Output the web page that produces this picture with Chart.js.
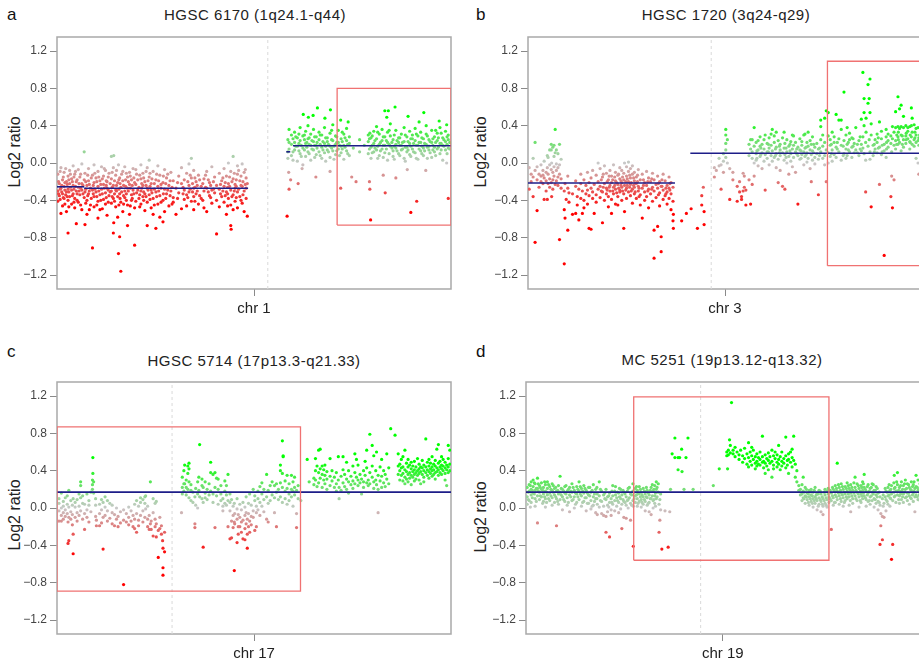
<!DOCTYPE html>
<html>
<head>
<meta charset="utf-8">
<script src="https://cdn.jsdelivr.net/npm/chart.js@4.4.1/dist/chart.umd.min.js"></script>
<style>
body { margin: 0; width: 919px; height: 664px; overflow: hidden; background: #fff; position: relative;
       font-family: "Liberation Sans", Arial, sans-serif; }
canvas { position: absolute; }
.letter { position: absolute; font-size: 17px; line-height: 20px; color: #111; }
.title { position: absolute; font-size: 15px; line-height: 20px; color: #222; white-space: nowrap;
         letter-spacing: 0.5px; transform: translateX(-50%); }
.ylab { position: absolute; font-size: 16px; line-height: 20px; color: #222; white-space: nowrap;
        transform: translate(-50%, -50%) rotate(-90deg); }
</style>
</head>
<body>
<div class="letter" style="left:7px;top:5px">a</div>
<div class="title" style="left:255px;top:5px">HGSC 6170 (1q24.1-q44)</div>
<div class="ylab" style="left:15px;top:152px">Log2 ratio</div>
<canvas id="chartA" width="460" height="320" style="left:0;top:0"></canvas>

<div class="letter" style="left:476px;top:5px">b</div>
<div class="title" style="left:726px;top:5px">HGSC 1720 (3q24-q29)</div>
<div class="ylab" style="left:481px;top:152px">Log2 ratio</div>
<canvas id="chartB" width="470" height="320" style="left:459px;top:0"></canvas>

<div class="letter" style="left:7px;top:342px">c</div>
<div class="title" style="left:254px;top:351px">HGSC 5714 (17p13.3-q21.33)</div>
<div class="ylab" style="left:15px;top:515px">Log2 ratio</div>
<canvas id="chartC" width="460" height="334" style="left:0;top:330px"></canvas>

<div class="letter" style="left:476px;top:342px">d</div>
<div class="title" style="left:722px;top:350px">MC 5251 (19p13.12-q13.32)</div>
<div class="ylab" style="left:481px;top:517px">Log2 ratio</div>
<canvas id="chartD" width="470" height="334" style="left:459px;top:330px"></canvas>

<script>
// y axis ticks shared by all four panels
const yTicks = [-1.2, -0.8, -0.4, 0, 0.4, 0.8, 1.2];

// each row: [position, log2 ratio, log2 ratio, ...]
const rowsA = [
[0.2,-0.12,-0.30,-0.41],[0.6,-0.22,-0.35],[1.0,-0.05,-0.27,-0.54],[1.4,-0.18,-0.33,-0.46],
[1.8,-0.10,-0.25,-0.38],[2.4,-0.52,-0.20,-0.31],[2.8,-0.75,-0.14,-0.28,-0.40],[3.2,-0.08,-0.22,-0.36],
[3.7,-0.17,-0.29,-0.44],[4.1,-0.03,-0.24,-0.33],[4.5,-0.12,-0.38,-0.48],[4.9,-0.65,-0.20,-0.30],
[5.4,-0.07,-0.26,-0.42],[5.8,-0.15,-0.34],[6.3,-0.01,-0.22,-0.29,-0.50],[6.9,0.12,-0.18,-0.37],
[7.1,-0.66,-0.11,-0.31],[7.6,-0.24,-0.40,-0.55],[8.0,-0.06,-0.19,-0.33],[8.5,-0.27,-0.45],
[9.0,-0.91,-0.13,-0.29],[9.4,-0.02,-0.21,-0.36,-0.47],[9.9,-0.16,-0.31],[10.4,-0.59,-0.09,-0.25,-0.41],
[10.9,-0.19,-0.34,-0.50],[11.3,-0.04,-0.28],[11.8,-0.14,-0.23,-0.39],[12.3,-0.08,-0.32,-0.44],
[12.7,-0.20,-0.27,-0.56],[13.2,-0.11,-0.35],[13.8,0.07,-0.17,-0.30,-0.43],[14.3,-0.75,-0.05,-0.24,-0.38],
[14.4,0.08,-0.64],[14.9,-0.13,-0.29,-0.47],[15.4,-0.21,-0.36,-0.58],[15.6,-0.97,-0.02],
[15.9,-0.79,-0.16,-0.33],[16.2,-1.16,-0.26,-0.42],[16.7,-0.09,-0.19,-0.52],[17.2,-0.04,-0.30,-0.37],
[17.9,-0.67,-0.15,-0.27,-0.45],[18.4,-0.10,-0.23,-0.55],[18.9,-0.18,-0.34,-0.40],[19.3,-0.06,-0.29],
[19.7,-0.88,-0.21,-0.48],[20.2,-0.12,-0.32],[20.8,-0.26,-0.38],[21.3,-0.02,-0.17,-0.30,-0.44],
[21.8,-0.11,-0.24,-0.36],[22.3,-0.20,-0.51,-0.33],[22.9,-0.67,-0.05,-0.27,-0.42],[23.4,0.03,-0.15,-0.34],
[23.9,-0.22,-0.29,-0.48],[24.4,-0.09,-0.38,-0.55],[25.1,-0.70,-0.18,-0.31],[25.6,-0.03,-0.25,-0.44],
[26.1,-0.13,-0.35,-0.58],[26.9,-0.63,-0.21,-0.40],[27.3,-0.07,-0.28,-0.52],[27.8,-0.16,-0.33],
[28.4,-0.24,-0.46],[28.9,-0.10,-0.30],[29.5,-0.19,-0.37,-0.42],[30.2,-0.27,-0.55],
[30.9,-0.14,-0.32],[31.6,-0.05,-0.22,-0.49],[32.3,-0.18,-0.29,-0.39],[32.9,-0.11,-0.34,-0.46],
[33.5,-0.01,-0.24,-0.31],[34.1,0.05,-0.16,-0.41],[34.7,-0.08,-0.27,-0.36,-0.50],[35.3,-0.20,-0.33],
[35.9,-0.13,-0.44],[36.6,-0.25,-0.38],[37.3,-0.17,-0.30,-0.48],[38.0,-0.09,-0.27,-0.52],
[38.7,-0.21,-0.35],[39.3,-0.04,-0.29,-0.43],[40.0,-0.15,-0.32],[40.5,-0.76,-0.24,-0.40],
[41.2,-0.11,-0.28,-0.47],[41.8,-0.19,-0.36],[42.4,-0.06,-0.25,-0.42],[43.0,-0.14,-0.31,-0.55],
[43.5,0.00,-0.22,-0.38],[44.1,-0.67,-0.09,-0.29,-0.45],[44.2,-0.71],[44.7,0.07,-0.17,-0.34,-0.50],
[45.2,-0.23,-0.27,-0.41],[45.8,-0.03,-0.12,-0.31,-0.48],[46.4,-0.19,-0.36],[47.0,-0.01,-0.25,-0.43],
[47.5,-0.10,-0.30,-0.52],[48.0,-0.16,-0.27,-0.38],[48.3,-0.57,-0.22],
[0.4,-0.20,-0.33],[0.8,-0.09,-0.28,-0.39],[1.2,-0.24,-0.31],[1.6,-0.15,-0.37],[2.0,-0.21,-0.29,-0.44],
[2.2,-0.06,-0.34],[2.6,-0.23,-0.36],[3.0,-0.18,-0.31,-0.47],[3.4,-0.26,-0.12],[3.9,-0.20,-0.35],
[4.3,-0.15,-0.28,-0.42],[4.7,-0.09,-0.25],[5.1,-0.18,-0.33,-0.40],[5.6,-0.22,-0.30],[6.0,-0.12,-0.27,-0.45],
[6.6,-0.24,-0.33],[7.3,-0.20,-0.28,-0.43],[7.8,-0.13,-0.35],[8.2,-0.23,-0.30,-0.50],[8.7,-0.16,-0.38],
[9.2,-0.24,-0.33],[9.6,-0.11,-0.28],[10.1,-0.20,-0.36,-0.45],[10.6,-0.15,-0.30],[11.1,-0.23,-0.40],
[11.5,-0.17,-0.33,-0.49],[12.0,-0.27,-0.06],[12.5,-0.19,-0.24,-0.37],[13.0,-0.15,-0.29,-0.42],
[13.5,-0.22,-0.31],[14.0,-0.10,-0.26,-0.36],[14.6,-0.19,-0.33,-0.41],[15.1,-0.08,-0.24,-0.30],
[15.7,-0.18,-0.28,-0.45],[16.0,-0.22,-0.38],[16.4,-0.12,-0.31],[16.9,-0.24,-0.35,-0.44],[17.4,-0.18,-0.25],
[17.6,-0.11,-0.33,-0.40],[18.1,-0.20,-0.30],[18.6,-0.14,-0.27,-0.46],[19.1,-0.24,-0.38],[19.5,-0.16,-0.33],
[20.0,-0.07,-0.23,-0.41],[20.5,-0.18,-0.29],[21.0,-0.13,-0.34,-0.47],[21.5,-0.22,-0.27],
[22.0,-0.16,-0.31,-0.40],[22.6,-0.09,-0.24,-0.36],[23.1,-0.19,-0.29],[23.6,-0.11,-0.25,-0.39],
[24.1,-0.17,-0.32],[24.7,-0.22,-0.28,-0.45],[25.3,-0.12,-0.36],[25.8,-0.19,-0.30],[26.4,-0.23,-0.27,-0.42],
[27.0,-0.14,-0.33],[27.6,-0.22,-0.38],[28.1,-0.12,-0.29],[28.7,-0.19,-0.35],[29.2,-0.26,-0.44],
[30.6,-0.21,-0.38],[32.0,-0.26,-0.33],[33.2,-0.20,-0.37],[33.8,-0.13,-0.28],[34.4,-0.22,-0.31],
[35.0,-0.16,-0.26,-0.41],[35.6,-0.24,-0.30],[36.2,-0.18,-0.35],[37.0,-0.22,-0.40],[37.7,-0.13,-0.26],
[38.4,-0.18,-0.31],[39.0,-0.24,-0.37],[39.7,-0.20,-0.28],[41.5,-0.23,-0.33],[42.1,-0.16,-0.30],
[42.7,-0.21,-0.35],[43.3,-0.26,-0.33,-0.46],[43.8,-0.15,-0.25],[44.4,-0.20,-0.36],[45.0,-0.11,-0.30],
[45.5,-0.18,-0.25,-0.37],[46.1,-0.08,-0.28],[46.7,-0.14,-0.24,-0.40],[47.2,-0.20,-0.34],[47.8,-0.07,-0.23],
[58.4,-0.57],[58.6,0.12,0.25,0.05],[58.8,-0.10],[58.9,-0.28,0.36],[59.3,-0.18],[59.5,0.20,0.30,0.08],
[60.3,0.14,0.33,0.22],[61.0,0.02,0.18,0.27],[61.2,-0.22],[61.7,0.24,0.10,0.38],[62.2,-0.06],
[62.4,0.16,0.29,-0.02],[62.5,0.52],[63.1,0.21,0.07,0.34],[63.7,0.12,0.26,0.40],[63.8,0.49],
[64.4,0.19,0.03,0.31],[65.0,0.51],[65.1,0.23,0.14,0.36],[65.7,-0.15],[65.8,0.09,0.28,0.19],
[66.1,0.59],[66.5,0.25,0.12,0.33],[67.2,0.17,0.30,0.05],[67.9,0.21,0.38,0.11],[68.0,0.48],
[68.6,0.14,0.27,0.23],[69.3,-0.09,0.18,0.32,0.06],[69.4,0.57],[70.0,0.24,0.13,0.41],
[70.7,0.20,0.29,0.09],[71.4,0.15,0.35,0.22],[72.0,-0.27,0.46],[72.1,0.26,0.11,0.18],
[72.8,0.19,0.31,0.04],[73.5,0.13,0.24,0.37],[73.9,0.44],[74.2,0.21,0.08,0.28],[74.8,-0.15],
[75.2,0.16],[75.9,-0.20],[76.8,0.12,0.25],[78.0,0.19],[79.0,0.10,0.23,0.30],[79.3,-0.20],
[79.4,-0.28,0.32],[79.6,-0.61],[79.7,0.17,0.27,0.05],[80.4,0.21,0.34,0.12],[81.1,0.14,0.26,0.39],
[81.8,0.20,0.08,0.31],[82.5,0.24,0.15,0.36],[82.8,-0.13],[83.2,0.11,0.28,0.19,0.56],[83.3,-0.32],
[83.7,0.49],[83.9,0.22,0.03,0.33],[84.1,0.56],[84.6,0.18,0.29,0.42],[85.3,0.13,0.25,0.07],
[85.8,0.60],[86.0,-0.16,0.20,0.35,0.16],[86.7,0.27,0.10,0.22],[87.4,0.14,0.31,0.19],
[88.1,0.23,0.05,0.38],[88.8,0.17,0.28,0.12],[88.9,-0.07],[89.1,0.50],[89.5,0.21,0.34,0.09],
[89.8,-0.53],[90.2,0.15,0.26,0.30],[90.9,0.24,0.11,0.37],[91.3,-0.41],[91.6,0.19,0.29,0.04],
[91.9,0.44],[92.3,0.13,0.22,0.33],[93.0,0.26,0.16,0.08],[93.1,0.54],[93.6,-0.08],
[93.7,0.20,0.31,0.40],[94.4,0.14,0.25,0.18],[95.1,0.22,0.06,0.35],[95.8,0.17,0.28,0.12],
[96.5,0.24,0.32,0.15],[97.0,0.45],[97.2,0.10,0.21,0.38],[97.9,0.19,0.27,0.03],
[98.6,0.23,0.14,0.34],[98.9,0.41,0.00],[99.3,-0.38,0.16,0.30,0.25],
[58.9,0.15,0.22],[59.9,0.12,0.26,0.03],[60.6,0.18,0.28],[61.4,0.21,0.13,0.31],[62.0,0.19,0.07],
[62.8,0.25,0.14,0.30],[63.4,0.17,0.22],[64.0,0.27,0.10,0.20],[64.7,0.15,0.24],[65.4,0.19,0.28,0.06],
[66.0,0.16,0.22],[66.8,0.20,0.30,0.08],[67.5,0.23,0.14],[68.2,0.18,0.27,0.02],[68.9,0.20,0.12],
[69.7,0.25,0.16,0.35],[70.3,0.18,0.04],[71.0,0.22,0.13,0.28],[71.7,0.19,0.08],[72.4,0.23,0.15,0.33],
[73.1,0.17,0.27],[73.8,0.20,0.10],[79.3,0.15,0.26],[80.0,0.19,0.11,0.29],[80.7,0.24,0.16],
[81.4,0.18,0.05,0.33],[82.1,0.22,0.13],[82.8,0.19,0.28,0.06],[83.6,0.24,0.15],[84.3,0.20,0.10,0.35],
[85.0,0.22,0.16],[85.6,0.18,0.30,0.04],[86.3,0.24,0.13],[87.0,0.19,0.27,0.08],[87.7,0.22,0.15],
[88.4,0.17,0.30,0.02],[89.1,0.23,0.14],[89.8,0.18,0.26,0.07],[90.5,0.21,0.12],[91.2,0.19,0.31,0.05],
[91.9,0.22,0.15],[92.6,0.18,0.27,0.10],[93.3,0.21,0.13],[94.0,0.17,0.29,0.05],[94.7,0.23,0.11],
[95.4,0.19,0.26,0.14],[96.1,0.22,0.08,0.35],[96.8,0.17,0.27],[97.5,0.21,0.14,0.32],[98.2,0.18,0.25],
[99.0,0.20,0.10,0.28],[99.7,0.22,0.15]
];

const rowsB = [
[0.3,-0.28,-0.05],[0.8,-0.12,-0.20],[1.3,-0.36,0.05,-0.15],[1.8,-0.85,0.22,-0.08],[2.3,-0.51,-0.04,-0.18],
[2.8,-0.12,-0.26],[3.3,-0.02,-0.14,-0.20],[3.8,-0.13,-0.08,-0.22],[4.1,-0.39,-0.16,0.02],
[4.6,-0.10,-0.19,-0.30],[4.9,-0.39,0.08,-0.05],[5.1,0.06,-0.12,-0.22],[5.5,0.14,-0.02,-0.17,-0.26],
[5.9,0.20,0.14,-0.07,-0.21],[6.0,-0.36,0.00],[6.3,0.17,-0.18,-0.10,-0.28],[6.6,0.19,0.07,-0.04,-0.14],
[6.9,0.36,0.11,-0.23],[7.2,0.14,-0.08,-0.01,-0.19],[7.6,0.10,-0.15,-0.05,-0.24],[8.0,0.20,-0.02,-0.82,-0.12],
[8.4,0.04,-0.17,-0.27],[9.2,-1.08,-0.50,-0.30],[9.4,-0.59,-0.22],[9.7,-0.39],[10.1,-0.72,-0.27,-0.14],
[10.4,-0.32,-0.42],[11.3,-0.55,-0.33],[12.1,-0.54,-0.19,-0.25],[12.5,-0.45,-0.36],[12.9,-0.61,-0.28],
[13.4,-0.38,-0.22,-0.12],[13.8,-0.54,-0.30],[14.2,-0.48,-0.18,-0.40],[14.7,-0.33,-0.24],
[15.1,-0.10,-0.29,-0.44],[15.5,-0.70,-0.21,-0.35],[16.0,-0.71,-0.16,-0.27],[16.4,-0.38,-0.08,-0.31],
[16.8,-0.54,-0.23],[17.3,-0.13,-0.34,-0.42],[17.8,0.00,-0.20,-0.28],[18.3,-0.06,-0.25,-0.37],
[18.9,-0.64,-0.15,-0.31],[19.4,-0.22,-0.40,-0.03],[19.9,-0.11,-0.27,-0.33],[20.4,-0.18,-0.36,-0.47],
[20.8,-0.08,-0.24,-0.30],[21.2,-0.54,-0.14,-0.21,-0.39],[21.7,-0.02,-0.26,-0.33],
[22.2,-0.10,-0.19,-0.28,-0.44],[22.8,-0.45,-0.13,-0.23,-0.36],[23.3,-0.05,-0.17,-0.29,-0.31],
[23.8,-0.08,-0.21,-0.26,-0.40],[24.3,-0.70,-0.11,-0.18,-0.33],[24.5,-0.52,0.00,-0.24],
[25.0,-0.04,-0.14,-0.27,-0.38],[25.5,0.01,-0.09,-0.20,-0.31],[26.0,-0.06,-0.16,-0.23,-0.35],
[26.5,-0.03,-0.12,-0.28,-0.43],[27.0,-0.10,-0.19,-0.26,-0.33],[27.5,-0.15,-0.22,-0.38],
[28.0,-0.07,-0.25,-0.30],[28.5,-0.18,-0.34,-0.45],[29.0,-0.59,-0.12,-0.27],[29.6,-0.21,-0.31,-0.40],
[30.1,-0.09,-0.24,-0.36],[30.6,-0.16,-0.28,-0.48],[31.1,-0.20,-0.33],[31.6,-0.11,-0.26,-0.41],
[32.0,-0.72,-1.02,-0.18,-0.30],[32.5,-0.23,-0.37],[32.9,-0.68,-0.14,-0.27],[33.4,-0.20,-0.32,-0.46],
[33.8,-0.79,-0.95,-0.25],[34.3,-0.12,-0.29,-0.39],[34.8,-0.19,-0.35],[35.3,-0.24,-0.31,-0.44],
[35.8,-0.15,-0.27,-0.38],[36.3,-0.21,-0.33,-0.50],[36.8,-0.62,-0.26,-0.41],[36.9,-0.70,-0.55],
[18.6,-0.18,-0.30],[19.1,-0.26,-0.12],[20.1,-0.20,-0.29],[20.6,-0.14,-0.26],[21.5,-0.18,-0.30],
[22.0,-0.24,-0.15],[22.5,-0.21,-0.32],[23.0,-0.12,-0.27],[23.6,-0.19,-0.24],[24.0,-0.15,-0.30],
[24.8,-0.20,-0.29],[25.2,-0.17,-0.24],[25.8,-0.13,-0.26],[26.2,-0.21,-0.30],[26.8,-0.16,-0.24],
[27.2,-0.22,-0.31],[27.8,-0.13,-0.20],[28.2,-0.27,-0.36],[29.3,-0.18,-0.24],[30.4,-0.20,-0.30],
[31.4,-0.17,-0.28],[33.1,-0.22,-0.34],[34.0,-0.18,-0.25],[35.0,-0.27,-0.33],[36.0,-0.22,-0.29],
[39.0,-0.62],[40.2,-0.54],[41.4,-0.49],[43.0,-0.70],[44.1,-0.45,-0.35],[44.5,-0.26],[44.7,-0.66,-0.52],
[47.3,-0.15,-0.05],[47.8,-0.08],[48.5,-0.03,0.05],[49.0,-0.28,-0.02],[49.6,0.10,0.02,-0.10],
[50.2,0.36,0.30,0.21,0.14,0.06],[50.6,0.25,0.00],[51.2,-0.39,-0.06],[52.0,-0.10,-0.18],
[53.1,-0.25,-0.41],[53.7,-0.31,-0.20],[54.2,-0.36,-0.39],[54.6,-0.11,-0.30],[54.9,-0.14,-0.26],
[55.3,-0.45,-0.29],[56.1,-0.18,0.08,0.20],[56.5,-0.44,0.15,0.25],[56.9,-0.23,0.25,0.12,0.05],
[57.4,0.38,0.18,-0.14,0.00],[57.9,0.22,0.10,0.03],[58.4,0.14,0.24,-0.03],[58.9,0.18,0.07,0.28],
[59.4,0.11,0.20,-0.06],[59.9,0.25,0.15,0.02],[60.2,-0.29,0.09,0.30],[60.7,0.21,0.05,0.12],
[61.2,0.16,0.27,-0.02],[61.7,0.08,0.19,0.31],[62.0,0.36,0.13,0.02],[62.5,0.22,0.06,0.29],
[63.0,0.10,0.17,-0.05,0.33],[63.5,-0.21,0.04,0.24],[64.0,0.14,0.08,0.20,-0.08],[64.6,-0.25,0.11,0.27],
[65.0,0.33,0.03,0.16],[65.2,-0.28,0.09,0.21],[65.7,0.12,0.00,0.25],[66.2,0.18,0.07,-0.12],
[66.7,0.23,0.10,0.02],[67.1,0.15,0.30,-0.04],[67.4,0.29,0.06,0.19],[67.9,0.12,0.22,-0.10],
[68.5,-0.44,0.08,0.17],[69.0,0.26,0.14,0.04],[69.5,0.19,0.09,0.23],[70.0,0.12,0.30,-0.02],
[70.3,0.31,0.16,0.07],[70.8,0.22,0.11,0.01],[71.1,0.33,0.18,0.05],[71.6,0.14,0.24,-0.06],
[71.9,-0.20,0.09,0.20],[72.2,0.28,0.13,0.03],[72.8,0.17,0.06,-0.01],[73.3,0.10,0.21],
[73.7,-0.34,0.15,0.04],[74.3,0.39,0.46,0.25,0.12],[74.8,0.30,0.18,0.05],[75.3,0.48,0.22,0.08,-0.02],
[75.7,-0.20,0.56,0.14],[76.2,0.54,0.29,0.11,0.00],[76.7,0.19,0.07,0.25],[77.2,0.33,0.14,0.02],
[77.7,0.22,0.09,0.28],[78.2,0.52,0.17,0.06],[78.9,0.46,0.26,0.12],[79.5,0.46,0.36,0.19,0.03],
[80.2,0.76,0.24,0.10],[80.7,0.30,0.15,0.05],[81.0,0.38,0.20,0.08],[81.6,0.25,0.12,0.32],
[82.2,0.17,0.06,0.27],[82.8,0.21,0.11],[83.2,0.38,0.14],[84.0,0.24,0.08],[84.6,0.47,0.20,0.13],
[85.0,0.97,0.28,0.16],[85.3,0.69,0.54,0.40,0.10],[85.7,-0.31,0.22,0.03],[85.8,0.48,0.33],
[86.3,0.84,0.64,0.18],[86.6,0.69,0.25],[86.8,0.90,0.54,0.04,0.12],[87.1,0.42,-0.47,0.30],
[87.6,0.19,0.08],[88.1,0.25,0.15],[88.6,0.31,0.11,0.22],[89.2,0.44,-0.23,0.17],[89.7,0.26,0.09,0.34],
[90.4,-0.99,0.20,0.13],[90.9,0.28,0.36,0.06],[91.4,0.17,0.24,0.31],[92.1,-0.36,0.21,0.29],
[92.3,-0.14,0.12],[92.5,0.39,-0.48,0.26],[92.9,-0.18,0.33,0.19],[93.3,0.55,0.38,0.24,0.15],
[93.9,0.71,0.39,0.28,0.20],[94.3,0.58,0.37,0.22],[94.7,0.62,0.39,0.30,0.13],[95.3,0.50,0.38,0.25,0.17],
[95.9,0.40,0.29,0.21],[96.4,0.38,0.26,0.34],[96.9,0.39,0.23,0.15],[97.3,0.59,0.40,0.28],
[97.5,0.48,0.20,0.33],[98.0,0.41,0.25,0.18],[98.5,0.37,0.30,0.22,0.05],[99.0,0.38,0.24,0.00],
[99.2,-0.12,0.27,0.19],[99.7,0.35,0.21,0.30],
[58.1,0.13,0.05],[59.1,0.16,0.09],[61.0,0.12,0.20],[62.8,0.15,0.08],[63.8,0.18,0.11],[65.5,0.16,0.06],
[66.5,0.13,0.20],[68.2,0.10,0.15],[69.3,0.13,0.05],[70.6,0.17,0.09],[72.5,0.11,0.20],[74.0,0.16,0.08],
[77.0,0.20,0.10],[78.5,0.15,0.22],[80.0,0.18,0.08],[81.3,0.14,0.22],[82.5,0.18,0.26],[83.6,0.20,0.11],
[84.3,0.15,0.28],[87.9,0.20,0.12],[88.9,0.16,0.27],[89.9,0.19,0.12],[91.0,0.15,0.22],[93.6,0.30,0.20],
[94.0,0.33,0.25],[95.0,0.29,0.20],[96.0,0.32,0.25],[97.0,0.30,0.22],[98.2,0.33,0.27],[99.4,0.30,0.25]
];

const rowsC = [
[0.5,0.05,-0.03,-0.14,0.10],[1.1,0.16,0.00,-0.08,-0.14],[1.6,0.07,-0.05,-0.12,0.02],[2.1,0.11,-0.02,-0.09],
[2.6,0.04,-0.06,0.13],[2.8,-0.38,-0.15],[3.0,0.19,-0.35,0.01,-0.10],[3.5,0.08,-0.04,-0.12],
[3.9,-0.18,0.03,-0.07],[4.1,-0.28,-0.49,0.10],[4.6,0.01,-0.10,0.06],[5.1,0.09,-0.05,-0.14],
[5.6,0.15,0.02,-0.08],[6.0,0.28,0.24,0.11,-0.03],[6.5,0.05,-0.12,0.13],[7.0,-0.23,0.04,-0.06],
[7.6,0.15,-0.02,-0.10],[8.1,0.08,-0.15,0.03],[8.6,0.17,-0.04],[9.0,0.25,0.30,0.20],[9.1,0.54,0.37],
[9.3,0.28,0.16],[9.8,0.03,-0.09,0.10],[10.0,-0.19,-0.13],[10.8,-0.19,0.04,-0.06],[11.3,0.09,-0.02,-0.16],
[11.7,-0.44,0.06,-0.10],[12.2,0.01,-0.08,0.12],[12.8,-0.03,-0.14,0.08],[13.4,0.05,-0.11],
[14.0,-0.05,-0.17,0.03],[14.6,-0.19,-0.07],[15.1,0.00,-0.12],[15.5,-0.20,-0.09],[16.1,-0.04,-0.16],
[16.9,-0.82,-0.13,-0.02],[17.6,-0.15,-0.06],[18.2,-0.10,-0.18,0.01],[18.8,-0.03,-0.14],[19.3,-0.08,-0.20],
[19.7,-0.22,-0.12,0.04],[20.2,-0.26,-0.06,0.08],[20.7,-0.13,0.02,-0.19],[21.2,0.06,-0.08,0.11],
[21.8,0.09,-0.03,-0.15],[22.3,0.12,0.05,-0.10],[22.5,0.13,-0.01],[23.0,0.02,-0.12,-0.20],
[23.4,-0.23,-0.08],[23.7,0.28,-0.17],[23.9,-0.23,-0.14],[24.4,-0.30,-0.05,0.10],[24.9,-0.20,0.05,-0.12],
[25.2,-0.31,0.07,-0.17],[25.7,-0.53,-0.24],[26.1,-0.10,-0.22],[26.5,-0.19,-0.28],[26.8,-0.35],
[26.9,-0.43,-0.64,-0.72],[27.3,-0.47,-0.26],
[31.6,-0.05],[31.8,0.33,0.22,0.15],[32.2,0.26,0.40,0.18],[32.4,0.46,0.26],[32.8,0.22,0.30,0.14],
[33.2,0.45,0.37,0.20],[33.5,0.48,0.42,0.28,0.11],[34.0,0.19,0.25,0.08],[34.5,0.17,0.06],
[35.0,-0.17,-0.21,0.12],[35.2,0.03,0.21],[35.7,0.15,0.28,0.00],[36.0,0.33,0.19],[36.2,0.68,0.12],
[36.8,0.31,0.10,0.24],[37.1,0.22,-0.42,0.06],[37.6,0.16,0.28,0.11],[38.1,0.20,0.09],[38.6,0.26,0.14],
[39.0,0.49,0.38,0.18],[39.6,0.15,0.36,0.06],[40.1,0.38,0.22,-0.21],[40.5,0.32,0.13],[40.9,0.31,0.20,0.04],
[41.6,0.15,0.08,0.24],[42.1,0.02,0.10,-0.03],[42.6,0.18,0.05,0.29],[43.0,0.24,0.14,0.03],
[43.4,0.36,0.08,-0.20],[43.9,-0.33,0.15,-0.03,0.06],[44.3,-0.14,-0.32,0.09],[44.7,-0.08,-0.21,0.02],
[45.0,-0.67,-0.15,0.05],[45.1,-0.17,-0.06],[45.7,-0.37,-0.12,-0.01,0.10],[46.0,-0.20,-0.28,-0.07],
[46.4,-0.20,-0.10,0.04],[46.8,-0.26,-0.15,-0.02],[47.2,-0.13,-0.33,0.06],[47.7,-0.34,-0.22,-0.08,0.01],
[48.0,-0.17,-0.05,0.12],[48.3,-0.43,-0.28,-0.12],[48.6,-0.20,-0.06,0.05],[48.9,-0.26,-0.14,0.15],
[49.3,-0.09,-0.18,0.03],[49.8,-0.10,-0.03,0.20],[50.2,-0.24,0.08,0.13],[50.6,-0.20,-0.05,0.02],
[51.0,0.10,0.18,-0.02],[51.5,0.06,0.23,-0.08],[52.0,0.15,0.02,0.27],[52.5,0.09,0.20,-0.04],
[53.2,0.36,0.12,-0.12],[53.6,-0.15,0.19,0.05],[54.1,0.24,0.08],[54.6,0.28,0.14],[55.2,0.11,0.24,-0.05],
[55.7,-0.20,0.26,0.17],[56.2,0.20,0.09],[56.7,0.46,0.40,0.27,0.12],[57.2,0.72,0.37,0.22,0.06],
[57.4,0.56,0.55],[57.9,0.18,0.29,0.10],[58.4,0.35,0.21,0.04],[58.9,0.26,0.15,0.08],[59.5,0.35,0.20,0.12],
[59.9,0.28,0.18,0.02],[60.3,0.22,0.14,0.33],[60.8,-0.21,-0.06,0.19],[61.2,0.24,0.10],[61.9,0.08],
[63.5,0.52],[64.0,0.28],[65.2,0.25,0.32],[65.6,0.53,0.40,0.30],[66.0,0.45,0.23],[66.4,0.62,0.38,0.27],
[66.8,0.63,0.42,0.32],[67.3,0.36,0.22,0.45],[67.7,0.41,0.30],[68.0,0.46,0.35,0.26],[68.5,0.39,0.31,0.20],
[69.3,0.53,0.34,0.24],[69.8,0.29,0.40],[70.4,0.33,0.22],[70.9,0.38,0.26,0.18],[71.4,0.55,0.30],
[71.6,0.10,0.22],[72.1,0.34,0.19],[72.6,0.55,0.41,0.27],[73.0,0.23,0.36],[73.5,0.49,0.31,0.20],
[74.0,0.40,0.28,0.16],[74.6,0.34,0.25],[75.1,0.45,0.29,0.21],[75.6,0.58,0.38,0.26],[76.0,0.52,0.33],
[76.4,0.46,0.24,0.30],[76.9,0.36,0.27],[77.3,0.15,0.31],[77.8,0.40,0.28,0.22],[78.2,0.50,0.35],
[78.6,0.62,0.27,0.43],[79.0,0.30,0.24],[79.4,0.79,0.38,0.26],[80.0,0.67,0.33,0.45],[80.4,0.56,0.28,0.21],
[80.9,0.40,0.30],[81.1,0.60,0.25],[81.5,-0.05,0.35,0.20],[82.0,0.44,0.29],[82.4,0.52,0.34,0.22],
[82.9,0.27,0.40],[83.3,0.36,0.23],[83.7,0.58,0.31],[84.2,0.26,0.43],[84.7,0.85],[85.8,0.78],
[86.6,0.58,0.45,0.36],[87.0,0.47,0.40,0.30],[87.4,0.52,0.43,0.35],[87.8,0.44,0.37,0.29,0.55],
[88.3,0.62,0.41,0.33,0.26],[88.7,0.48,0.39,0.31],[89.1,0.52,0.44,0.36,0.28],[89.5,0.46,0.38,0.32],
[89.9,0.42,0.35,0.49,0.25],[90.3,0.45,0.39,0.33],[90.7,0.50,0.41,0.36,0.29],[91.1,0.44,0.38,0.31],
[91.5,0.53,0.40,0.35],[91.9,0.47,0.42,0.37,0.30],[92.3,0.44,0.39,0.26],[92.7,0.51,0.43,0.36],
[93.1,0.46,0.40,0.33,0.28],[93.6,0.74,0.44,0.38],[94.0,0.49,0.41,0.35],[94.4,0.45,0.39,0.32,0.52],
[94.8,0.48,0.42,0.37],[95.2,0.55,0.44,0.40,0.34],[95.6,0.47,0.41,0.36],[96.0,0.51,0.45,0.38,0.31],
[96.4,0.63,0.43,0.39],[96.8,0.68,0.48,0.41,0.35],[97.2,0.50,0.44,0.38],[97.6,0.46,0.42,0.36,0.55],
[98.0,0.52,0.45,0.40],[98.5,0.49,0.43,0.37,0.30],[98.9,0.24,0.46,0.41],[99.3,0.67,0.53,0.44,0.38],
[99.7,0.62,0.47,0.40]
];

const rowsD = [
[0.3,0.22,0.12,0.04],[0.8,0.25,0.18,0.08],[1.3,0.28,0.20,0.14,0.06],[1.8,0.30,0.23,0.16],
[2.3,0.26,0.19,0.10,0.02],[2.9,0.32,-0.16,0.21,0.13],[3.4,0.24,0.17,0.09],[3.9,0.27,0.20,0.12],
[4.4,0.22,0.15,0.07],[4.9,0.25,0.18,0.10,0.01],[5.4,0.28,0.21,0.14],[6.0,0.23,0.16,0.08],
[6.6,0.26,0.19,0.11,0.03],[7.2,0.21,0.14,0.06],[7.7,-0.19,0.18,0.10],[8.2,0.24,0.15,0.04],
[8.6,0.34,0.17,0.09],[9.2,0.20,0.12,-0.02],[9.8,0.23,0.16,0.07],[10.4,0.18,0.11,0.03],
[11.0,0.22,0.14,-0.04],[11.6,0.26,0.17,0.08],[12.2,0.19,0.12,0.00],[12.8,0.23,0.15,0.06],
[13.4,0.28,0.18,0.09],[14.0,0.21,0.13,0.02],[14.6,0.24,0.16,0.07],[15.2,0.19,0.11,-0.03],
[15.8,0.22,0.14,0.05],[16.4,0.17,0.08,-0.01],[17.0,0.25,0.12,0.03],[17.6,0.20,0.10,-0.05],
[18.0,0.15,0.04,-0.07],[18.5,0.28,0.13,0.01],[19.1,0.18,0.07,-0.06],[19.6,0.14,0.02,-0.08],
[20.2,-0.26,0.20,0.09,-0.09],[20.6,0.12,0.03,-0.04],[21.1,-0.31,0.16,0.06],[21.5,0.10,-0.02,-0.08],
[21.9,0.24,0.13,0.04],[22.4,0.18,0.08,-0.03],[22.9,0.11,0.02],[23.4,0.16,0.06,-0.05],
[23.9,0.20,0.10,-0.01],[24.2,-0.22,0.14,0.04],[24.7,0.17,0.07,-0.10],[25.3,-0.11,0.12,0.03],
[25.8,0.21,0.09,0.00],[26.4,-0.13,0.15,0.05],[27.0,0.26,0.18,0.08],[27.1,-0.41,0.02],
[27.6,0.21,0.13,0.06],[28.1,0.19,0.10,0.02],[28.6,0.23,0.15,0.07],[29.1,0.17,0.09,0.01],
[29.6,0.21,0.12,0.04],[30.1,0.15,0.07,-0.03],[30.6,0.19,0.11,0.03],[31.1,0.14,0.06,-0.04],
[31.6,0.22,0.10,-0.07],[32.1,0.18,0.08,0.00],[32.5,0.24,0.13,0.05],[32.9,0.28,0.20,0.10],
[33.4,0.26,0.17],[33.6,-0.26,0.04],[33.8,-0.13,0.09],[34.0,-0.02,0.15],[34.3,-0.44],[35.1,-0.03],
[0.6,0.17,0.09],[1.1,0.24,0.01],[1.6,0.19,0.11],[2.1,0.27,0.15],[2.6,0.21,0.07],[3.1,0.18,0.26],
[3.6,0.13,0.22],[4.2,0.19,0.05],[4.7,0.28,0.12],[5.2,0.17,0.06],[5.7,0.25,0.10],[6.3,0.20,0.13],
[6.9,0.17,0.24],[7.5,0.12,0.22],[8.0,0.19,0.07],[8.9,0.14,0.21],[9.5,0.18,0.09],[10.1,0.15,0.24],
[10.7,0.20,0.06],[11.3,0.12,0.18],[11.9,0.22,0.09],[12.5,0.16,0.04],[13.1,0.20,0.12],[13.7,0.15,0.23],
[14.3,0.18,0.06],[14.9,0.11,0.21],[15.5,0.16,0.05],[16.1,0.13,0.22],[16.7,0.19,0.02],[17.3,0.15,0.07],
[17.9,0.22,0.10],[18.8,0.08,0.20],[19.9,0.10,0.16],[20.9,0.13,0.01],[21.7,0.18,0.06],[22.6,0.14,0.23],
[23.1,0.08,0.17],[23.6,0.21,0.12],[24.5,0.09,0.19],[25.0,0.15,0.06],[25.6,0.18,0.08],[26.1,0.11,0.22],
[26.7,0.14,0.03],[27.3,0.17,0.10],[27.9,0.23,0.14],[28.3,0.16,0.05],[28.9,0.20,0.12],[29.3,0.14,0.06],
[29.9,0.18,0.09],[30.4,0.22,0.12],[30.9,0.16,0.05],[31.4,0.19,0.10],[31.9,0.13,0.25],[32.3,0.20,0.09],
[32.7,0.16,0.02],[33.1,0.22,0.12],
[35.9,-0.42],[36.3,-0.04],[36.5,0.20],[36.9,0.58],[37.6,0.75,0.54],[38.4,0.54,0.41],[38.8,0.54],
[39.3,0.63],[39.4,0.39],[39.9,0.20],[40.4,0.54],[40.9,0.75],[42.2,0.20],[47.3,0.24],[48.8,0.42],
[50.7,0.56,0.60],[50.9,0.42],[51.1,0.62,0.57],[51.4,0.73],[51.6,0.67,0.59],[51.9,1.13],
[52.3,0.62,0.58],[52.8,0.65,0.55],[53.3,0.60],[53.8,0.57,0.52],[54.2,0.62],[54.7,0.56,0.49],
[55.2,0.53,0.64],[55.8,0.47,0.58],[56.2,0.70,0.54,0.44],[56.6,0.60,0.50],[57.0,0.65,0.56,0.46],
[57.4,0.62,0.52],[57.9,0.42,0.55,0.48],[58.3,0.58,0.50,0.45],[58.7,0.54,0.47],[59.1,0.46,0.60,0.52],
[59.7,0.77,0.55,0.49],[60.0,0.50,0.43],[60.4,0.37,0.57,0.48],[60.8,0.53,0.45],[61.2,0.59,0.51,0.41],
[61.6,0.55,0.48],[62.1,0.62,0.33,0.50],[62.5,0.56,0.46,0.42],[62.9,0.60,0.53],[63.4,0.49,0.57,0.44],
[63.8,0.67,0.52,0.47],[64.2,0.55,0.41],[64.6,0.60,0.50,0.45],[65.1,0.53,0.48],[65.6,0.76,0.56,0.43],
[66.0,0.51,0.46],[66.3,0.37,0.58,0.52],[66.8,0.60,0.49],[67.2,0.63,0.54,0.44],[67.6,0.77,0.51],
[68.0,0.33,0.47],[68.4,0.28,0.40],[68.9,0.24,0.19],[69.3,0.20,0.14],[69.7,0.15,0.25,0.08],
[70.0,0.33,0.18,0.11],[70.5,0.22,0.13,0.05],[71.0,0.16,0.09],[71.5,0.19,0.12,0.03],[72.0,0.14,0.07,0.20],
[72.5,0.17,0.10,0.01],[73.0,0.12,0.05,0.22],[73.5,0.16,0.08,-0.02],[74.0,0.11,0.04,0.19],
[74.5,0.15,0.07,-0.04],[75.0,0.10,0.02,-0.07],[75.5,0.14,0.05,0.20],[76.0,0.18,0.09,0.01],
[76.5,0.12,0.06],[77.1,-0.23,0.16,0.08],[77.6,0.20,0.11,0.03],[78.1,0.24,0.14,0.06],[78.6,0.48,0.18,0.09],
[79.1,0.22,0.13,0.04],[79.6,0.26,0.16,0.07],[80.1,0.20,0.11,0.02],[80.6,0.23,0.15,0.08],
[81.1,0.27,0.18,0.10],[81.6,0.21,0.12,0.03],[82.0,-0.04,0.25,0.16],[82.5,0.19,0.10,0.05],
[83.1,0.33,0.22,0.13],[83.6,0.26,0.17,0.08],[84.1,0.21,0.12,0.01],[84.6,0.24,0.15,0.06],
[85.0,0.28,0.19,0.10],[85.4,0.36,0.22,0.13],[85.9,0.18,0.09,0.02],[86.4,0.25,0.16,0.07],
[86.9,0.21,0.12,0.04],[87.4,0.26,0.17,0.08],[87.9,0.19,0.10,0.01],[88.4,0.23,0.14,0.05],
[88.9,0.16,0.07,-0.02],[89.4,-0.39,0.12,0.03],[89.6,-0.19,-0.06],[90.0,-0.34,0.10,-0.09],
[90.4,-0.10,0.05],[90.9,0.18,0.09,-0.03],[91.4,0.22,0.13,0.04],[91.9,0.19,0.11,0.02],
[92.3,-0.55,0.24,0.15],[92.6,-0.39,0.08],[93.0,0.35,0.21,0.12],[93.4,0.18,0.06],[93.8,0.38,0.25,0.14],
[94.3,0.22,0.13,0.05],[94.8,0.28,0.18,0.09],[95.3,0.24,0.15,0.06],[95.8,0.30,0.20,0.11],
[96.3,0.26,0.16,0.08],[96.8,0.22,0.13,0.04],[97.3,0.28,0.19,0.10],[97.8,0.25,0.16,0.07],
[98.2,-0.04,0.21,0.12],[98.5,0.35,0.23,0.14],[99.0,0.30,0.19,0.09],[99.5,0.26,0.17,0.08],
[70.2,0.17,0.10],[70.8,0.12,0.20],[71.3,0.15,0.06],[71.8,0.10,0.18],[72.3,0.13,0.05],[72.8,0.19,0.08],
[73.3,0.10,0.14],[73.8,0.15,0.02],[74.3,0.09,0.18],[74.8,0.12,0.04],[75.3,0.17,0.08],[75.8,0.11,0.03],
[76.3,0.15,0.21],[76.8,0.19,0.10],[77.4,0.13,0.22],[77.9,0.18,0.06],[78.4,0.21,0.12],[78.9,0.16,0.25],
[79.4,0.19,0.10],[79.9,0.23,0.14],[80.4,0.17,0.06],[80.9,0.21,0.12],[81.4,0.15,0.24],[81.9,0.19,0.08],
[82.3,0.22,0.13],[82.8,0.16,0.27],[83.3,0.19,0.10],[83.9,0.15,0.24],[84.4,0.18,0.08],[84.8,0.22,0.13],
[85.2,0.16,0.26],[85.7,0.20,0.11],[86.2,0.14,0.23],[86.7,0.18,0.08],[87.2,0.22,0.13],[87.7,0.15,0.25],
[88.2,0.19,0.09],[88.7,0.12,0.21],[89.2,0.17,0.06],[90.2,0.14,0.02],[90.7,0.21,0.12],[91.2,0.17,0.07],
[91.7,0.25,0.14],[92.1,0.20,0.10],[92.9,0.17,0.27],[93.2,0.22,0.13],[93.6,0.28,0.18],[94.1,0.19,0.09],
[94.6,0.24,0.15],[95.1,0.20,0.12],[95.6,0.26,0.17],[96.1,0.21,0.12],[96.6,0.25,0.16],[97.1,0.20,0.11],
[97.6,0.23,0.14],[98.0,0.18,0.28],[98.8,0.22,0.12],[99.3,0.20,0.14],[99.8,0.24,0.16]
];

// segmented means: [start, end, level]
const segmentsA = [[0, 6.9, -0.255], [6.9, 48.5, -0.27], [58.2, 59.2, 0.12], [59.9, 100, 0.185]];
const segmentsB = [[0, 37.3, -0.215], [41.2, 100, 0.105]];
const segmentsC = [[0, 100, 0.17]];
const segmentsD = [[0, 100, 0.17]];

// highlighted region: [x0, x1, yLow, yHigh]
const boxA = [71.1, 100, -0.665, 0.80];
const boxB = [76, 100, -1.10, 1.09];
const boxC = [0, 61.8, -0.89, 0.87];
const boxD = [27.2, 76.5, -0.56, 1.19];

// centromere position and chromosome label position
const centromeres = { A: 53.5, B: 46.5, C: 29.2, D: 44.1 };
const chrTicks = { A: 50, B: 50, C: 50, D: 49.7 };
const chrLabels = { A: "chr 1", B: "chr 3", C: "chr 17", D: "chr 19" };

const FONT = '"Liberation Sans", Arial, sans-serif';
const Y_MIN = -1.35, Y_MAX = 1.35;

function pointColour(v) {
    const t = Math.max(-1, Math.min(1, v / 0.5));
    const k = Math.abs(t);
    const lo = Math.round(200 * (1 - k));
    const hi = Math.round(200 + 55 * k);
    return t < 0 ? `rgb(${hi},${lo},${lo})` : `rgb(${lo},${hi},${lo})`;
}

function tickText(v) {
    if (Math.abs(v) < 1e-9) return "0.0";
    return (v < 0 ? "\u2212" : "") + Math.abs(v).toFixed(1);
}

const framePlugin = {
    id: "frame",
    beforeDatasetsDraw(chart) {
        const a = chart.chartArea;
        const ctx = chart.ctx;
        ctx.save();
        ctx.strokeStyle = "#a9a9a9";
        ctx.lineWidth = 1.5;
        ctx.strokeRect(a.left, a.top, a.right - a.left, a.bottom - a.top);
        ctx.restore();
    }
};

function makePanel(id, key, rows, segments, box, layout) {
    const points = rows.flatMap(r => r.slice(1).map(y => ({ x: r[0], y: y })));
    const datasets = [];

    datasets.push({
        data: [{ x: box[0], y: box[2] }, { x: box[1], y: box[2] }, { x: box[1], y: box[3] },
               { x: box[0], y: box[3] }, { x: box[0], y: box[2] }],
        showLine: true, borderColor: "#f07272", borderWidth: 1.3, pointRadius: 0, order: 0
    });
    segments.forEach(s => {
        datasets.push({
            data: [{ x: s[0], y: s[2] }, { x: s[1], y: s[2] }],
            showLine: true, borderColor: "#1d1d88", borderWidth: 1.6, pointRadius: 0, order: 1
        });
    });
    datasets.push({
        data: points,
        pointRadius: 1.6,
        pointHoverRadius: 1.6,
        borderWidth: 0,
        backgroundColor: ctx => pointColour(ctx.raw ? ctx.raw.y : 0),
        order: 2
    });
    datasets.push({
        data: [{ x: centromeres[key], y: Y_MIN }, { x: centromeres[key], y: Y_MAX }],
        showLine: true, borderColor: "#d9d9d9", borderWidth: 1, borderDash: [3, 3], pointRadius: 0, order: 3
    });

    return new Chart(document.getElementById(id), {
        type: "scatter",
        data: { datasets: datasets },
        options: {
            responsive: false,
            animation: false,
            layout: { padding: { left: 0, right: layout.padRight, top: layout.padTop, bottom: 0 } },
            plugins: { legend: { display: false }, tooltip: { enabled: false } },
            scales: {
                x: {
                    type: "linear", min: 0, max: 100,
                    afterFit: s => { s.height = layout.axisH; },
                    afterBuildTicks: s => { s.ticks = [{ value: chrTicks[key] }]; },
                    ticks: {
                        callback: () => chrLabels[key],
                        font: { family: FONT, size: 15 }, color: "#222", padding: 4,
                        maxRotation: 0, autoSkip: false
                    },
                    grid: { drawOnChartArea: false, drawTicks: true, tickLength: 7, color: "#8a8a8a" },
                    border: { display: false }
                },
                y: {
                    min: Y_MIN, max: Y_MAX,
                    afterFit: s => { s.width = layout.axisW; },
                    afterBuildTicks: s => { s.ticks = yTicks.map(v => ({ value: v })); },
                    ticks: {
                        callback: v => tickText(v),
                        font: { family: FONT, size: 12 }, color: "#444", padding: 3
                    },
                    grid: { drawOnChartArea: false, drawTicks: true, tickLength: 7, color: "#8a8a8a" },
                    border: { display: false }
                }
            }
        },
        plugins: [framePlugin]
    });
}

document.addEventListener("DOMContentLoaded", function () {
    makePanel("chartA", "A", rowsA, segmentsA, boxA, { axisW: 57, axisH: 31, padTop: 37, padRight: 9 });
    makePanel("chartB", "B", rowsB, segmentsB, boxB, { axisW: 69, axisH: 31, padTop: 37, padRight: 7 });
    makePanel("chartC", "C", rowsC, segmentsC, boxC, { axisW: 57, axisH: 30, padTop: 52, padRight: 9 });
    makePanel("chartD", "D", rowsD, segmentsD, boxD, { axisW: 67, axisH: 30, padTop: 52, padRight: 7 });
});
</script>
</body>
</html>
